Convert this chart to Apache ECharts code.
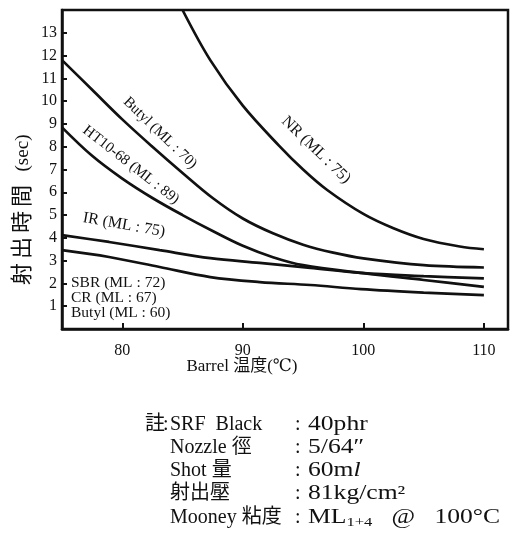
<!DOCTYPE html>
<html><head><meta charset="utf-8">
<script src="https://cdn.jsdelivr.net/npm/echarts@6/dist/echarts.min.js"></script>
<style>html,body{margin:0;padding:0;background:#fff}#c{width:516px;height:546px}</style>
</head><body><div id="c"></div>
<script>
// Data (x = Barrel temperature °C, y = injection time sec)
const nrX = [85, 87.3, 90, 93, 95, 97, 100, 102.5, 105, 108, 110];
const nrY = [14, 11.8, 9.8, 8.05, 7.0, 6.1, 5.05, 4.42, 3.95, 3.62, 3.5];
const butyl70X = [75, 77.5, 80, 82.5, 85, 87.5, 90, 92.5, 95, 97.5, 100, 105, 110];
const butyl70Y = [11.8, 10.5, 9.2, 8.0, 6.85, 5.75, 4.85, 4.2, 3.7, 3.35, 3.1, 2.8, 2.7];
const htX = [75, 77.5, 80, 82.5, 85, 87.5, 90, 92.5, 95, 100, 105, 110];
const htY = [8.85, 7.6, 6.6, 5.75, 5.0, 4.3, 3.65, 3.15, 2.8, 2.45, 2.15, 1.85];
const irX = [75, 78.9, 83.1, 87.3, 91.4, 95.6, 99.8, 105, 110];
const irY = [4.12, 3.82, 3.46, 3.11, 2.9, 2.68, 2.46, 2.32, 2.22];
const lowX = [75, 78.9, 83.1, 87.3, 91.4, 95.6, 99.8, 105, 110];
const lowY = [3.46, 3.16, 2.72, 2.28, 2.06, 1.93, 1.75, 1.6, 1.49];
const xTicks = [80, 90, 100, 110];
const yTickLabels = [1,2,3,4,5,6,7,8,9,10,11,12,13];

const pair = (xs, ys) => xs.map((x, i) => [x, ys[i]]);
const serif = "'Liberation Serif','DejaVu Serif','Noto Sans CJK JP',serif";
const line = (name, xs, ys) => ({
  name, type: 'line', data: pair(xs, ys), smooth: 0.35, showSymbol: false,
  lineStyle: { color: '#111', width: 2.7 }, clip: true, silent: true
});

const chart = echarts.init(document.getElementById('c'), null, { renderer: 'canvas' });
const txt = (x, y, text, size, rot, extra, sx) => Object.assign({
  type: 'text', x, y, rotation: rot || 0, scaleX: sx || 1,
  style: Object.assign({ text, font: size + 'px ' + serif, fill: '#111', align: 'left', verticalAlign: 'middle' }, extra || {})
});
const deg = d => d * Math.PI / 180;
const NF = 20;   // note font size
const VS = 1.28; // horizontal stretch of the note values

chart.setOption({
  animation: false,
  backgroundColor: '#fff',
  grid: { left: 62, top: 10, right: 8, bottom: 217, show: true, borderColor: '#111', borderWidth: 2.5 },
  xAxis: {
    type: 'value', min: 75, max: 112, interval: 5,
    axisLine: { show: true, lineStyle: { color: '#111', width: 2.5 } },
    axisTick: { show: true, inside: true, length: 6, customValues: xTicks, lineStyle: { color: '#111', width: 2 } },
    axisLabel: { customValues: xTicks, color: '#111', fontSize: 16, fontFamily: serif, margin: 14 },
    splitLine: { show: false }
  },
  yAxis: {
    type: 'value', min: 0, max: 14, interval: 1,
    axisLine: { show: true, lineStyle: { color: '#111', width: 2.5 } },
    axisTick: { show: true, inside: true, length: 5, lineStyle: { color: '#111', width: 2 } },
    axisLabel: { color: '#111', fontSize: 16, fontFamily: serif, margin: 5,
      formatter: v => yTickLabels.indexOf(v) >= 0 ? String(v) : '' },
    splitLine: { show: false }
  },
  series: [
    line('NR (ML : 75)', nrX, nrY),
    line('Butyl (ML : 70)', butyl70X, butyl70Y),
    line('HT10-68 (ML : 89)', htX, htY),
    line('IR (ML : 75)', irX, irY),
    line('SBR/CR/Butyl', lowX, lowY)
  ],
  graphic: [
    txt(160, 133, 'Butyl (ML : 70)', 15, deg(-44), { align: 'center' }),
    txt(131, 165, 'HT10-68 (ML : 89)', 15, deg(-38), { align: 'center' }),
    txt(316, 150, 'NR (ML : 75)', 16, deg(-44), { align: 'center' }),
    txt(124, 225, 'IR (ML : 75)', 16, deg(-10), { align: 'center' }),
    txt(71, 283, 'SBR (ML : 72)', 15.5),
    txt(71, 298, 'CR (ML : 67)', 15.5),
    txt(71, 313, 'Butyl (ML : 60)', 15.5),
    // y-axis title, characters spaced like the reference
    txt(23, 274, '射', 22, deg(90), { align: 'center' }),
    txt(23, 248, '出', 22, deg(90), { align: 'center' }),
    txt(23, 222, '時', 22, deg(90), { align: 'center' }),
    txt(23, 196, '間', 22, deg(90), { align: 'center' }),
    txt(23, 153, '(sec)', 19, deg(90), { align: 'center' }),
    txt(242, 367, 'Barrel 温度(℃)', 17, 0, { align: 'center' }),
    txt(145, 425, '註', NF),
    txt(163, 425, ':', NF),
    txt(170, 425, 'SRF  Black', NF),
    txt(170, 448, 'Nozzle 徑', NF),
    txt(170, 471, 'Shot 量', NF),
    txt(170, 494, '射出壓', NF),
    txt(170, 518, 'Mooney 粘度', NF),
    txt(295, 425, ':', NF), txt(308, 425, '40phr', NF, 0, null, VS),
    txt(295, 448, ':', NF), txt(308, 448, '5/64″', NF, 0, null, VS),
    txt(295, 471, ':', NF),
    { type: 'text', x: 308, y: 471, scaleX: VS, style: { text: '60m{i|l}', font: NF + 'px ' + serif, fill: '#111', verticalAlign: 'middle',
        rich: { i: { fontStyle: 'italic', fontSize: NF, fontFamily: serif } } } },
    txt(295, 494, ':', NF), txt(308, 494, '81kg/cm²', NF, 0, null, VS),
    txt(295, 518, ':', NF),
    { type: 'text', x: 308, y: 518, scaleX: VS, style: { text: 'ML{s|1+4}   @   100°C', font: NF + 'px ' + serif, fill: '#111', verticalAlign: 'middle',
        rich: { s: { fontSize: 13, fontFamily: serif, verticalAlign: 'bottom', padding: [10, 0, 0, 0] } } } }
  ]
});
</script></body></html>
